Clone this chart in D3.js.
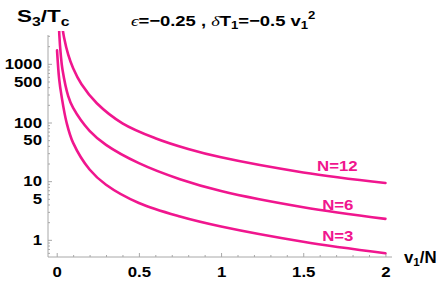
<!DOCTYPE html>
<html>
<head>
<meta charset="utf-8">
<script src="https://cdn.jsdelivr.net/npm/d3@7"></script>
<style>
  html, body { margin: 0; padding: 0; background: #fff; }
  svg { display: block; }
  text { font-family: "Liberation Sans", Arial, Helvetica, sans-serif; font-weight: bold; }
</style>
</head>
<body>
<svg id="chart" width="442" height="284"></svg>
<script>
// ---- data ----
const xN3  = [0.002, 0.015, 0.03, 0.06, 0.1, 0.2, 0.3, 0.5, 0.75, 1.0, 1.5, 2.0];
const yN3  = [1700, 550, 276, 100, 45, 15.8, 8.7, 4.25, 2.5, 1.69, 0.93, 0.59];
const xN6  = [0.012, 0.016, 0.025, 0.035, 0.07, 0.1, 0.2, 0.3, 0.5, 0.75, 1.0, 1.5, 2.0];
const yN6  = [8000, 3100, 1400, 800, 282, 177, 72, 41.6, 20.3, 10.8, 6.8, 3.6, 2.28];
const xN12 = [0.03, 0.045, 0.07, 0.1, 0.15, 0.244, 0.4, 0.6, 0.8, 1.0, 1.5, 2.0];
const yN12 = [5100, 2790, 1435, 840, 453, 213, 97, 54, 35.4, 25.5, 14.1, 9.3];
const seriesNames = ["N=12", "N=6", "N=3"];
const labelX = [1.584, 1.615, 1.615];
const labelY = [15.0, 3.24, 0.97];
const xTickLabels = [0, 0.5, 1, 1.5, 2];
const yTickLabels = [1, 5, 10, 50, 100, 500, 1000];

// ---- layout ----
const svg = d3.select("#chart");
const pink = "#f0168e";
const axisGrey = "#a8a8a8";
const SX = 1.12;

const x = d3.scaleLinear().domain([-0.053, 2.04]).range([48, 392]);
const y = d3.scaleLog().domain([0.51, 3100]).range([257, 35]);

// clip
svg.append("defs").append("clipPath").attr("id", "clip")
  .append("rect").attr("x", 48).attr("y", 31).attr("width", 344).attr("height", 226);

// minor/major ticks on y (inside)
const yMinor = [];
[0.1, 1, 10, 100, 1000].forEach(d => { for (let k = 1; k < 10; k++) { const v = d * k; if (v >= 0.51 && v <= 3100) yMinor.push(v); } });
const yMajor = [1, 10, 100, 1000];
svg.append("g").attr("transform", "translate(48,0)")
  .call(d3.axisRight(y).tickValues(yMinor.filter(v => !yMajor.includes(v))).tickSize(2).tickFormat(""))
  .call(g => g.select(".domain").remove())
  .call(g => g.selectAll("line").attr("stroke", axisGrey));
svg.append("g").attr("transform", "translate(48,0)")
  .call(d3.axisRight(y).tickValues(yMajor).tickSize(4).tickFormat(""))
  .call(g => g.select(".domain").remove())
  .call(g => g.selectAll("line").attr("stroke", axisGrey));

// x ticks (inside, pointing up)
const xMinor = d3.range(0, 2.001, 0.1).map(v => +v.toFixed(2));
svg.append("g").attr("transform", "translate(0,257)")
  .call(d3.axisTop(x).tickValues(xMinor.filter(v => !xTickLabels.includes(v))).tickSize(2).tickFormat(""))
  .call(g => g.select(".domain").remove())
  .call(g => g.selectAll("line").attr("stroke", axisGrey));
svg.append("g").attr("transform", "translate(0,257)")
  .call(d3.axisTop(x).tickValues(xTickLabels).tickSize(4).tickFormat(""))
  .call(g => g.select(".domain").remove())
  .call(g => g.selectAll("line").attr("stroke", axisGrey));

// axis lines
svg.append("line").attr("x1", 48).attr("x2", 48).attr("y1", 35).attr("y2", 257)
  .attr("stroke", axisGrey).attr("stroke-width", 1);
svg.append("line").attr("x1", 48).attr("x2", 392).attr("y1", 257).attr("y2", 257)
  .attr("stroke", axisGrey).attr("stroke-width", 1);

// y tick labels
const gy = svg.append("g").attr("transform", "translate(48,0)")
  .call(d3.axisLeft(y).tickValues(yTickLabels).tickSize(0).tickPadding(6).tickFormat(d3.format("d")));
gy.select(".domain").remove();
gy.selectAll("text").attr("font-size", 15).attr("fill", "#000")
  .attr("font-family", "Liberation Sans, Arial, sans-serif").attr("font-weight", "bold")
  .attr("x", -6 / SX).attr("transform", `scale(${SX},1)`);

// x tick labels
const gx = svg.append("g").attr("transform", "translate(0,257)")
  .call(d3.axisBottom(x).tickValues(xTickLabels).tickSize(0).tickPadding(9.5).tickFormat(d => String(d)));
gx.select(".domain").remove();
gx.selectAll("text").attr("font-size", 15).attr("fill", "#000")
  .attr("font-family", "Liberation Sans, Arial, sans-serif").attr("font-weight", "bold")
  .attr("transform", `scale(${SX},1)`);

// curves
const line = d3.line().x(d => x(d[0])).y(d => y(d[1])).curve(d3.curveCatmullRom.alpha(0.5));
const series = [d3.zip(xN12, yN12), d3.zip(xN6, yN6), d3.zip(xN3, yN3)];
svg.append("g").attr("clip-path", "url(#clip)")
  .selectAll("path").data(series).join("path")
  .attr("d", line).attr("fill", "none").attr("stroke", pink).attr("stroke-width", 2.6)
  .attr("stroke-linecap", "round");

// series labels
seriesNames.forEach((name, i) => {
  svg.append("text")
    .attr("transform", `translate(${x(labelX[i])},${y(labelY[i])}) scale(${SX},1)`)
    .attr("font-size", 15).attr("fill", pink).text(name);
});

// y axis title S3/Tc
const yt = svg.append("text").attr("transform", "translate(17,22) scale(1.32,1)").attr("font-size", 17).attr("fill", "#000");
yt.append("tspan").text("S");
yt.append("tspan").attr("font-size", 12).attr("dy", 4).text("3");
yt.append("tspan").attr("dy", -4).text("/T");
yt.append("tspan").attr("font-size", 12).attr("dy", 4).text("c");

// x axis title v1/N
const xt = svg.append("text").attr("transform", "translate(404,263) scale(1.05,1)").attr("font-size", 16).attr("fill", "#000");
xt.append("tspan").text("v");
xt.append("tspan").attr("font-size", 11).attr("dy", 3).text("1");
xt.append("tspan").attr("dy", -3).text("/N");

// title
const tt = svg.append("text").attr("transform", "translate(131,26) scale(1.19,1)").attr("font-size", 15.5).attr("fill", "#000");
tt.append("tspan").attr("font-family", "Liberation Serif, Times New Roman, serif").attr("font-style", "italic").attr("font-weight", "normal").text("ϵ");
tt.append("tspan").text("=−0.25 , ");
tt.append("tspan").attr("font-family", "Liberation Serif, Times New Roman, serif").attr("font-style", "italic").attr("font-weight", "normal").text("δ");
tt.append("tspan").text("T");
tt.append("tspan").attr("font-size", 11).attr("dy", 3).text("1");
tt.append("tspan").attr("dy", -3).text("=−0.5 v");
tt.append("tspan").attr("font-size", 11).attr("dy", 3).text("1");
tt.append("tspan").attr("font-size", 11).attr("dy", -10).text("2");
</script>
</body>
</html>
